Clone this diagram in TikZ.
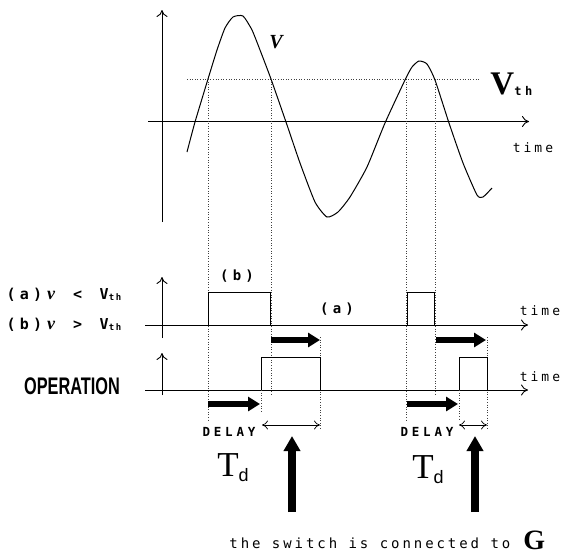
\documentclass[tikz,border=0pt]{standalone}
\usepackage{fontspec}
\setmainfont{Liberation Serif}
\newfontfamily\mono[LetterSpace=23]{DejaVu Sans Mono}
\newfontfamily\monob[LetterSpace=30]{DejaVu Sans Mono Bold}
\newfontfamily\monoplain{DejaVu Sans Mono Bold}
\newfontfamily\monoc[LetterSpace=21]{DejaVu Sans Mono}
\newfontfamily\sansf{Liberation Sans}
\usetikzlibrary{arrows.meta}
\newcommand\cb[1]{\makebox[13.3pt]{#1}}
\newcommand\vit{{\rmfamily\bfseries\itshape\fontsize{18}{18}\selectfont v}}
\begin{document}
\begin{tikzpicture}[x=1pt,y=-1pt,line width=0.9pt,
  axis/.style={-{To[length=7pt,width=11pt]}},
  dotl/.style={dotted,line width=0.6pt,black!75},
  blockh/.style={line width=6pt,-{Triangle[length=12pt,width=14pt]}},
  blockv/.style={line width=8pt,-{Triangle[length=15pt,width=16pt]}},
  dbl/.style={{To[length=6pt,width=9pt]}-{To[length=6pt,width=9pt]},line width=0.7pt},
  timelbl/.style={font=\mono\fontsize{13}{13}\selectfont,inner sep=0pt},
  delaylbl/.style={font=\monob\fontsize{12.5}{12.5}\selectfont,inner sep=0pt},
  lbl/.style={inner sep=0pt}]
\useasboundingbox (0,0) rectangle (562,558);
% top plot
\draw[axis] (162,222) -- (162,10);
\draw[axis] (148,121.5) -- (529,121.5);
\node[timelbl] (t1) at (533,148) {time};
\draw[dotl] (187,79) -- (480,79);
\draw[line width=1pt] plot[smooth,tension=0.35] coordinates {(187,152) (195,122) (208,79) (217,50) (225,28) (233,17) (243,16) (252,30) (260,50) (271,79) (286,122) (300,163) (315,202) (327,217) (338,212) (350,197) (367,167) (385,123) (405,80) (412,67) (419,61) (427,64) (435,80) (449,123) (463,163) (477,195) (483,197) (492,188)};
\node[lbl,font=\bfseries\itshape\fontsize{20}{20}\selectfont] (v) at (276,42) {V};
\node[lbl,anchor=west] (vth) at (490,84) {\fontsize{33}{33}\selectfont\bfseries V\raisebox{-1pt}{\monob\fontsize{12}{12}\selectfont th}};
% dotted verticals
\draw[dotl] (208,79) -- (208,420);
\draw[dotl] (271,79) -- (271,395);
\draw[dotl] (406,79) -- (406,420);
\draw[dotl] (435,79) -- (435,395);
% middle plot
\draw[axis] (162,338) -- (162,277);
\draw[axis] (145,325) -- (528,325);
\node[timelbl] (t2) at (540,311) {time};
\draw (208,325) -- (208,292) -- (270,292) -- (270,325);
\draw (407,325) -- (407,292) -- (434,292) -- (434,325);
\node[lbl,font=\monob\fontsize{14}{14}\selectfont] (b) at (237,276) {(b)};
\node[lbl,font=\monob\fontsize{14}{14}\selectfont] (a) at (337,309) {(a)};
\node[lbl,anchor=west] (la) at (4,295) {\monoplain\fontsize{15}{15}\selectfont \cb{(}\cb{a}\cb{)}\cb{\vit}\cb{}\cb{<}\cb{}\cb{V}\raisebox{-1pt}{\fontsize{9}{9}\selectfont\hspace{-2pt}t\hspace{1.5pt}h}};
\node[lbl,anchor=west] (lb) at (4,325) {\monoplain\fontsize{15}{15}\selectfont \cb{(}\cb{b}\cb{)}\cb{\vit}\cb{}\cb{>}\cb{}\cb{V}\raisebox{-1pt}{\fontsize{9}{9}\selectfont\hspace{-2pt}t\hspace{1.5pt}h}};
\coordinate (d1s) at (271,340); \coordinate (d1e) at (320,340);
\coordinate (d2s) at (436,340); \coordinate (d2e) at (486,340);
\draw[blockh] (d1s) -- (d1e);
\draw[blockh] (d2s) -- (d2e);
\draw[dotl] (320,337) -- (320,430);
\draw[dotl] (487,337) -- (487,430);
% operation plot
\draw[axis] (162,395) -- (162,353);
\draw[axis] (145,390) -- (528,390);
\node[timelbl] (t3) at (540,377) {time};
\node[lbl] (op) at (72,386) {\scalebox{0.68}[1]{\sansf\bfseries\fontsize{24}{24}\selectfont OPERATION}};
\draw (261,390) -- (261,357) -- (320,357) -- (320,390);
\draw (459,390) -- (459,357) -- (487,357) -- (487,390);
\draw[dotl] (261,390) -- (261,412);
\draw[dotl] (459,390) -- (459,420);
\coordinate (e1s) at (208,404); \coordinate (e1e) at (260,404);
\coordinate (e2s) at (407,404); \coordinate (e2e) at (458,404);
\draw[blockh] (e1s) -- (e1e);
\draw[blockh] (e2s) -- (e2e);
\coordinate (w1s) at (262,425); \coordinate (w1e) at (320,425);
\coordinate (w2s) at (459,425); \coordinate (w2e) at (487,425);
\draw[dbl] (w1s) -- (w1e);
\draw[dbl] (w2s) -- (w2e);
\node[delaylbl] (dl1) at (229,432) {DELAY};
\node[delaylbl] (dl2) at (427,432) {DELAY};
\node[lbl] (td1) at (233,468) {\fontsize{35}{35}\selectfont T\raisebox{-5pt}{\sansf\fontsize{18}{18}\selectfont d}};
\node[lbl] (td2) at (428,470) {\fontsize{35}{35}\selectfont T\raisebox{-5pt}{\sansf\fontsize{18}{18}\selectfont d}};
\coordinate (u1s) at (292,512); \coordinate (u1e) at (292,436);
\coordinate (u2s) at (475,512); \coordinate (u2e) at (475,436);
\draw[blockv] (u1s) -- (u1e);
\draw[blockv] (u2s) -- (u2e);
\node[lbl,anchor=base west] (sw) at (229,548) {\monoc\fontsize{14}{14}\selectfont the switch is connected to};
\node[lbl,anchor=base west,font=\rmfamily\bfseries\fontsize{28}{28}\selectfont] (g) at (523,549) {G};
\end{tikzpicture}
\end{document}
